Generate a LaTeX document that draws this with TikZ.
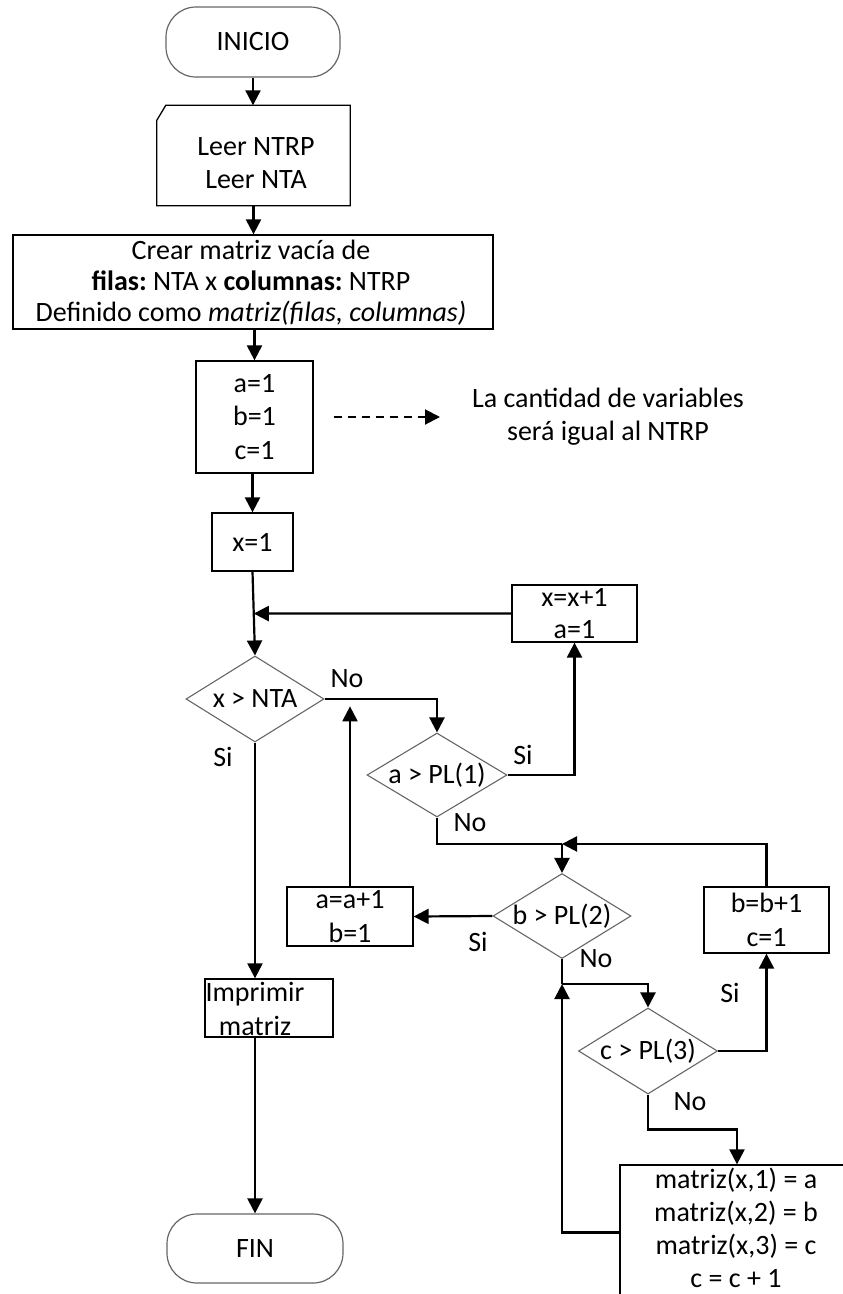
\documentclass[tikz,border=0pt]{standalone}
\usepackage{fontspec}
\setmainfont{Carlito}
\usetikzlibrary{shapes.geometric,arrows.meta,calc}
\begin{document}
\frenchspacing
\begin{tikzpicture}[x=1pt,y=-1pt,
  every node/.style={font=\fontsize{28}{33.5}\selectfont, align=center},
  conn/.style={line width=2.2pt, draw=black},
  arr/.style={conn, -{Triangle[length=15pt,width=15pt]}},
  box/.style={draw=black, line width=1.3pt, rectangle, inner sep=0pt},
  dec/.style={draw=black!60, line width=1.1pt, diamond, inner sep=0pt},
  term/.style={draw=black!60, line width=1.2pt, rectangle, rounded corners=30pt, inner sep=0pt},
  lbl/.style={inner sep=0pt},
]
\useasboundingbox (0,0) rectangle (843,1294);
\clip (0,0) rectangle (843,1294);

% nodes
\node[term, minimum width=174pt, minimum height=70pt] (ini) at (253,42) {INICIO};
\node[inner sep=0pt, minimum width=193pt, minimum height=100pt] (leer) at (253.5,155.5) {};
\draw[box] ($(leer.north west)+(0,15)$) -- ($(leer.north west)+(9,0)$) -- (leer.north east) -- (leer.south east) -- (leer.south west) -- cycle;
\node (leertxt) at (256,163) {Leer NTRP\\Leer NTA};
\node[box, minimum width=480pt, minimum height=94pt] (crear) at (253,282) {};
\node[font=\fontsize{28}{31}\selectfont, inner sep=0pt] (creartxt) at (251,283)
  {Crear matriz vacía de\\\textbf{filas:} NTA x \textbf{columnas:} NTRP\\Definido como \textit{matriz(filas, columnas)}};
\node[box, minimum width=117pt, minimum height=112pt] (abc) at (254.5,417) {a=1\\b=1\\c=1};
\node (note) at (608,416.5) {La cantidad de variables\\será igual al NTRP};
\node[box, minimum width=81pt, minimum height=58pt] (x1) at (252.5,542) {x=1};
\node[box, minimum width=125pt, minimum height=57pt, font=\fontsize{28}{32}\selectfont] (xinc) at (574.5,613.5) {x=x+1\\a=1};
\node[dec, minimum width=138pt, minimum height=86pt] (d1) at (255,699) {\makebox[0pt]{x > NTA}};
\node[dec, minimum width=140pt, minimum height=84pt] (d2) at (437,775) {\makebox[0pt]{a > PL(1)}};
\node[dec, minimum width=138pt, minimum height=85pt] (d3) at (562,916) {\makebox[0pt]{b > PL(2)}};
\node[box, minimum width=126pt, minimum height=59pt] (ainc) at (350,916.5) {a=a+1\\b=1};
\node[box, minimum width=125pt, minimum height=66pt] (binc) at (766.5,920) {b=b+1\\c=1};
\node[dec, minimum width=139pt, minimum height=86pt] (d4) at (648,1051) {\makebox[0pt]{c > PL(3)}};
\node[box, minimum width=234pt, minimum height=135pt] (mat) at (737,1232.5) {};
\node[font=\fontsize{28}{33}\selectfont, inner sep=0pt] (mattxt) at (736,1228)
  {matriz(x,1) = a\\matriz(x,2) = b\\matriz(x,3) = c\\c = c + 1};
\node[box, minimum width=128pt, minimum height=58pt] (imp) at (269,1008) {};
\node (imptxt) at (255,1009) {Imprimir\\matriz};
\node[term, minimum width=176pt, minimum height=69pt] (fin) at (255,1248.5) {FIN};

% labels
\node[lbl] (l1) at (347,679) {No};
\node[lbl] (l2) at (223,757) {Si};
\node[lbl] (l3) at (523,755) {Si};
\node[lbl] (l4) at (470,823) {No};
\node[lbl] (l5) at (478,942) {Si};
\node[lbl] (l6) at (596,959) {No};
\node[lbl] (l7) at (730,993) {Si};
\node[lbl] (l8) at (690,1102) {No};

% coordinates
\coordinate (j1) at ($(x1.south)!0.5!(d1.north)$);
\coordinate (j2) at ($(d3.north)+(0,-29)$);
\coordinate (j3) at ($(d3.south)+(0,25)$);
\coordinate (aup) at ($(ainc.north)+(0,-180)$);
\coordinate (ds) at ($(abc.east)+(20,0)$);
\coordinate (de) at (440,417);

% connectors
\draw[arr] (ini.south) -- (ini.south |- leer.north);
\draw[arr] (leer.south) -- (leer.south |- crear.north);
\draw[arr] (abc.north |- crear.south) -- (abc.north);
\draw[arr] (x1.north |- abc.south) -- (x1.north);
\draw[arr] (x1.south) -- (d1.north);
\draw[arr] (xinc.west) -- (j1);
\draw[arr] (d1.east) -| (d2.north);
\draw[arr] (d2.east) -| (xinc.south);
\draw[conn] (d2.south) |- (j2);
\draw[arr] (j2) -- (d3.north);
\draw[arr] (binc.north) |- (j2);
\draw[arr] (d3.west) -- (ainc.east);
\draw[arr] (ainc.north) -- (aup);
\draw[conn] (d3.south) -- (j3);
\draw[arr] (j3) -| (d4.north);
\draw[arr] (d4.east) -| (binc.south);
\draw[arr] (d4.south) -- ++(0,35) -| (mat.north);
\draw[arr] (mat.west) -| (j3);
\draw[arr] (d1.south) -- (d1.south |- imp.north);
\draw[arr] (d1.south |- imp.south) -- (d1.south |- fin.north);
\draw[arr, line width=2pt, dash pattern=on 8pt off 6pt] (ds) -- (de);
\end{tikzpicture}
\end{document}
